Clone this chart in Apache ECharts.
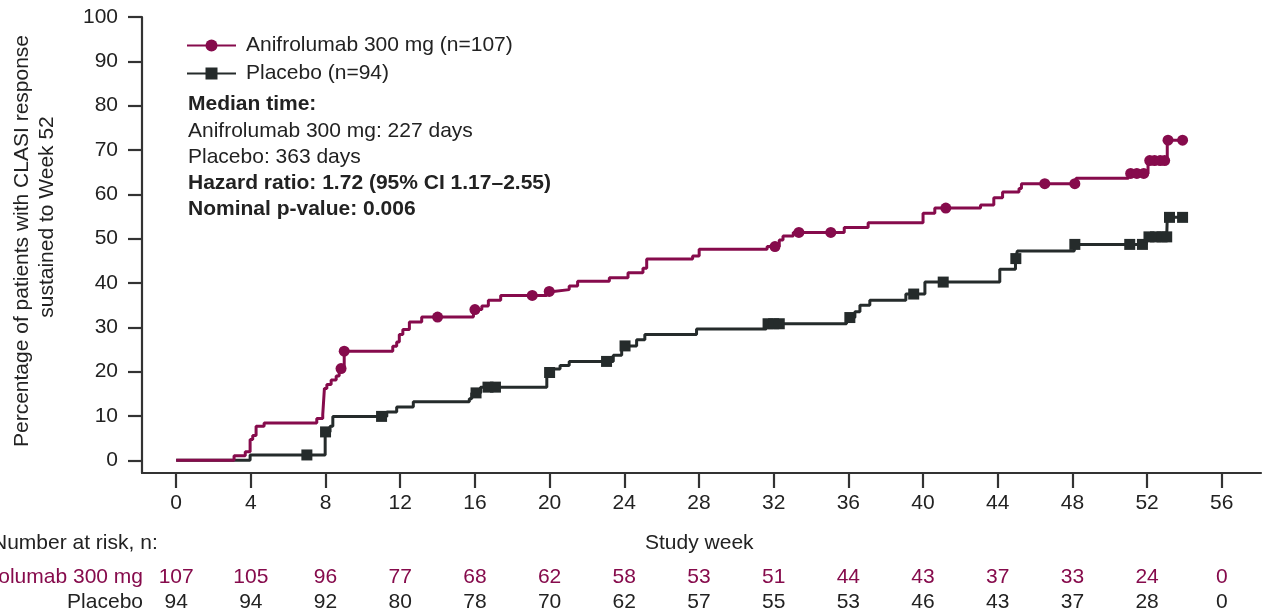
<!DOCTYPE html>
<html>
<head>
<meta charset="utf-8">
<script src="https://cdn.jsdelivr.net/npm/echarts@6/dist/echarts.min.js"></script>
<style>
  html, body { margin: 0; padding: 0; background: #fff; }
  #chart { width: 1263px; height: 615px; }
</style>
</head>
<body>
<div id="chart"></div>
<script>
// Study weeks shown on the x axis and percentage ticks on the y axis
const weekTicks = [0, 4, 8, 12, 16, 20, 24, 28, 32, 36, 40, 44, 48, 52, 56];
const pctTicks = [0, 10, 20, 30, 40, 50, 60, 70, 80, 90, 100];

// Cumulative % with sustained CLASI response: [week, percent] at each event
const anifroSteps = [
  [0, 0], [3.1, 1.0], [3.7, 1.9], [3.96, 4.7], [4.1, 5.6], [4.28, 7.7], [4.71, 8.4],
  [7.53, 9.4], [7.85, 10.3], [7.94, 16.2], [8.07, 17.1], [8.3, 18.1], [8.57, 19.0],
  [8.73, 20.7], [9.0, 24.6], [11.6, 25.7], [11.81, 26.7], [11.95, 28.4], [12.14, 29.5],
  [12.49, 31.2], [13.15, 32.3], [15.92, 34.0], [16.37, 34.8], [16.72, 36.1], [17.38, 37.2],
  [19.84, 38.1], [20.2, 38.5], [21.05, 39.3], [21.5, 40.4], [23.2, 41.2], [24.2, 42.3],
  [25.0, 43.3], [25.2, 45.4], [27.66, 46.1], [28.01, 47.6], [31.65, 48.2], [32.3, 49.7],
  [32.5, 50.6], [33.05, 51.4], [35.78, 52.5], [37.06, 53.6], [40.0, 55.7], [40.63, 56.9],
  [43.08, 57.6], [43.79, 59.2], [44.26, 60.5], [45.14, 61.3], [45.27, 62.4], [48.2, 63.6],
  [51.0, 64.7], [52.05, 67.6], [53.08, 72.2], [53.9, 72.2]
];
const placeboSteps = [
  [0, 0], [3.96, 1.2], [7.98, 6.4], [8.24, 7.7], [8.39, 9.9], [11.28, 10.9], [11.81, 12.0],
  [12.7, 13.2], [15.7, 13.9], [15.83, 15.2], [16.3, 16.5], [19.85, 19.8], [20.2, 20.6],
  [20.56, 21.4], [21.05, 22.3], [23.41, 23.7], [23.86, 25.8], [24.66, 27.2], [25.1, 28.4],
  [27.87, 29.6], [31.6, 30.8], [35.9, 32.2], [36.35, 33.5], [36.62, 35.0], [37.15, 36.1],
  [39.08, 37.5], [40.1, 40.2], [44.11, 43.1], [44.95, 45.5], [45.05, 47.2], [48.1, 48.7],
  [51.95, 50.4], [53.08, 54.8], [53.9, 54.8]
];

// Censored observations (weeks)
const anifroCensor = [8.83, 9.0, 14.0, 16.0, 19.07, 19.98, 32.07, 33.35, 35.06, 41.22,
  46.52, 48.13, 51.12, 51.45, 51.82, 52.14, 52.4, 52.7, 52.94, 53.12, 53.9];
const placeboCensor = [7.0, 8.0, 11.0, 16.06, 16.7, 17.1, 20.0, 23.05, 24.04, 31.7, 32.0,
  32.3, 36.08, 39.5, 41.08, 44.97, 48.13, 51.07, 51.75, 52.1, 52.45, 52.8, 53.05, 53.2, 53.9];

// Number at risk at each 4-week tick
const riskAnifro = [107, 105, 96, 77, 68, 62, 58, 53, 51, 44, 43, 37, 33, 24, 0];
const riskPlacebo = [94, 94, 92, 80, 78, 70, 62, 57, 55, 53, 46, 43, 37, 28, 0];

const seriesNames = ['Anifrolumab 300 mg (n=107)', 'Placebo (n=94)'];
const RED = '#860b4c';
const DARK = '#252b2b';
const FONT = '"Liberation Sans", Arial, Helvetica, sans-serif';

// value of a step curve at a given week
function levelAt(steps, w) {
  let v = steps[0][1];
  for (const s of steps) { if (s[0] <= w + 1e-9) v = s[1]; }
  return v;
}

// combine event steps (no symbol) with censor marks (symbol shown)
function buildData(steps, censors) {
  const items = steps.map(s => ({ value: s, k: 0 }));
  censors.forEach(w => items.push({ value: [w, levelAt(steps, w)], k: 1 }));
  items.sort((a, b) => a.value[0] - b.value[0] || a.k - b.k);
  return items.map(it => it.k ? { value: it.value } : { value: it.value, symbol: 'none' });
}

const chart = echarts.init(document.getElementById('chart'), null, { renderer: 'canvas' });

chart.setOption({
  animation: false,
  backgroundColor: '#fff',
  textStyle: { fontFamily: FONT },
  grid: { left: 142, right: 2, top: 17, bottom: 142, containLabel: false },
  legend: {
    orient: 'vertical',
    left: 181,
    top: 30,
    itemWidth: 49,
    itemHeight: 15,
    itemGap: 7,
    data: seriesNames,
    textStyle: { fontSize: 21, color: '#222', fontFamily: FONT, lineHeight: 21, padding: [0, 0, 0, 5] }
  },
  xAxis: {
    type: 'value',
    min: -1.83,
    max: 58.1,
    splitLine: { show: false },
    axisLine: { onZero: false, lineStyle: { color: '#333', width: 2.2 } },
    axisTick: { length: 15, lineStyle: { color: '#333', width: 2.2 }, customValues: weekTicks },
    axisLabel: { customValues: weekTicks, fontSize: 21, color: '#222', margin: 20, fontFamily: FONT }
  },
  yAxis: {
    type: 'value',
    min: -2.87,
    max: 100,
    splitLine: { show: false },
    axisLine: { onZero: false, lineStyle: { color: '#333', width: 2.2 } },
    axisTick: { length: 14, lineStyle: { color: '#333', width: 2.2 }, customValues: pctTicks },
    axisLabel: { customValues: pctTicks, fontSize: 21, color: '#222', margin: 24, fontFamily: FONT }
  },
  series: [
    {
      name: seriesNames[0],
      type: 'line',
      step: 'end',
      symbol: 'circle',
      symbolSize: 11,
      showSymbol: true,
      color: RED,
      lineStyle: { color: RED, width: 3 },
      itemStyle: { color: RED },
      data: buildData(anifroSteps, anifroCensor),
      z: 3
    },
    {
      name: seriesNames[1],
      type: 'line',
      step: 'end',
      symbol: 'rect',
      symbolSize: 11,
      showSymbol: true,
      color: DARK,
      lineStyle: { color: DARK, width: 3 },
      itemStyle: { color: DARK },
      data: buildData(placeboSteps, placeboCensor),
      z: 2
    }
  ]
});

// Annotations, axis title and the number-at-risk table
const txt = (text, x, y, opts) => ({
  type: 'text',
  x, y,
  style: Object.assign({
    text, font: '21px ' + FONT, fill: '#222',
    textAlign: 'left', textVerticalAlign: 'middle'
  }, opts || {})
});
const bold = '700 21px ' + FONT;

const g = [
  txt('Median time:', 188, 104, { font: bold }),
  txt('Anifrolumab 300 mg: 227 days', 188, 131),
  txt('Placebo: 363 days', 188, 157),
  txt('Hazard ratio: 1.72 (95% CI 1.17\u20132.55)', 188, 183, { font: bold }),
  txt('Nominal p-value: 0.006', 188, 209, { font: bold }),
  Object.assign(txt('Percentage of patients with CLASI response', 22, 241, { textAlign: 'center' }), { rotation: Math.PI / 2 }),
  Object.assign(txt('sustained to Week 52', 47, 217, { textAlign: 'center' }), { rotation: Math.PI / 2 }),
  txt('Study week', 645, 543),
  txt('Number at risk, n:', -8, 543),
  txt('Anifrolumab 300 mg', 143, 577, { textAlign: 'right', fill: RED }),
  txt('Placebo', 143, 602, { textAlign: 'right' })
];
weekTicks.forEach((w, i) => {
  const px = chart.convertToPixel({ xAxisIndex: 0 }, w);
  g.push(txt(String(riskAnifro[i]), px, 577, { textAlign: 'center', fill: RED }));
  g.push(txt(String(riskPlacebo[i]), px, 602, { textAlign: 'center' }));
});
chart.setOption({ graphic: g });
</script>
</body>
</html>
